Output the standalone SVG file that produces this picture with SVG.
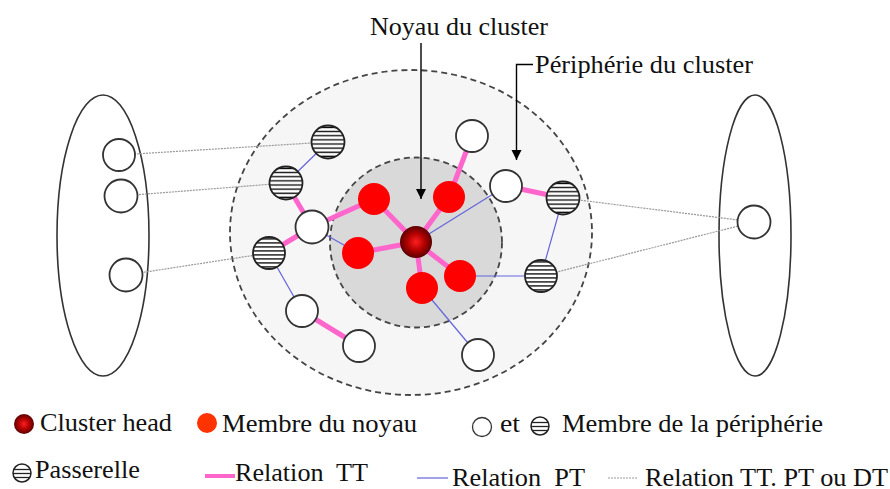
<svg xmlns="http://www.w3.org/2000/svg" width="890" height="489" viewBox="0 0 890 489">
<defs>
<style>
.t{font-family:"Liberation Serif","Times New Roman",serif;font-size:25px;fill:#111;}
.zone{stroke:#444;stroke-width:1.8;stroke-dasharray:6 4;}
.ell{fill:none;stroke:#333;stroke-width:1.6;}
.wn{fill:#fff;stroke:#333;stroke-width:1.8;}
.sn{fill:url(#stripes);stroke:#222;stroke-width:1.8;}
.rn{fill:#ff0000;}
.pk{stroke:#ff66cc;stroke-width:5;stroke-linecap:butt;}
.bl{stroke:#6464dc;stroke-width:1.2;}
.dt{stroke:#999;stroke-width:1.2;stroke-dasharray:2 1;}
.ar{stroke:#000;stroke-width:1.4;fill:none;}
</style>
<pattern id="stripes" patternUnits="objectBoundingBox" width="1" height="0.125" patternContentUnits="objectBoundingBox">
<rect x="0" y="0" width="1" height="0.125" fill="#fff"/>
<rect x="0" y="0.04" width="1" height="0.04" fill="#000"/>
</pattern>
<radialGradient id="head" cx="50%" cy="50%" r="50%">
<stop offset="0" stop-color="#ff2020"/>
<stop offset="0.55" stop-color="#b00000"/>
<stop offset="1" stop-color="#5a0000"/>
</radialGradient>
<marker id="arr" markerUnits="userSpaceOnUse" markerWidth="11" markerHeight="11" refX="10" refY="5" orient="auto">
<path d="M0,0 L10,5 L0,10 z" fill="#000"/>
</marker>
</defs>

<g id="zones">
<ellipse id="peripherie" class="zone" cx="411" cy="232.5" rx="181" ry="162.5" fill="#f6f6f6"/>
<ellipse id="noyau" class="zone" cx="416" cy="242.5" rx="86" ry="85" fill="#d9d9d9"/>
<ellipse id="cluster-gauche" class="ell" cx="103" cy="235.5" rx="46" ry="140.5"/>
<ellipse id="cluster-droit" class="ell" cx="755" cy="235.5" rx="36" ry="140.5"/>
</g>

<g id="connectors">
<line class="dt" x1="119" y1="155" x2="328" y2="142"/>
<line class="dt" x1="121" y1="196" x2="286" y2="183"/>
<line class="dt" x1="126" y1="275" x2="269" y2="253"/>
<line class="dt" x1="563" y1="198" x2="754" y2="222"/>
<line class="dt" x1="541" y1="276" x2="754" y2="222"/>
<line class="pk" x1="416" y1="242" x2="374" y2="199"/>
<line class="pk" x1="416" y1="242" x2="449" y2="197"/>
<line class="pk" x1="416" y1="242" x2="358" y2="253"/>
<line class="pk" x1="416" y1="242" x2="460" y2="276"/>
<line class="pk" x1="416" y1="242" x2="422" y2="288"/>
<line class="pk" x1="374" y1="199" x2="312" y2="227"/>
<line class="pk" x1="449" y1="197" x2="472" y2="136"/>
<line class="pk" x1="286" y1="183" x2="312" y2="227"/>
<line class="pk" x1="312" y1="227" x2="269" y2="253"/>
<line class="pk" x1="302" y1="311" x2="359" y2="346"/>
<line class="pk" x1="506" y1="186" x2="563" y2="198"/>
<line class="bl" x1="328" y1="142" x2="286" y2="183"/>
<line class="bl" x1="312" y1="227" x2="358" y2="253"/>
<line class="bl" x1="269" y1="253" x2="302" y2="311"/>
<line class="bl" x1="422" y1="288" x2="478" y2="355"/>
<line class="bl" x1="460" y1="276" x2="541" y2="276"/>
<line class="bl" x1="541" y1="276" x2="563" y2="198"/>
<line class="bl" x1="506" y1="186" x2="416" y2="242"/>
</g>

<g id="nodes">
<g id="ch"><circle cx="416" cy="242" r="16" fill="url(#head)"/></g>
<g id="m1"><circle class="rn" cx="374" cy="199" r="16"/></g>
<g id="m2"><circle class="rn" cx="449" cy="197" r="16"/></g>
<g id="m3"><circle class="rn" cx="358" cy="253" r="16"/></g>
<g id="m4"><circle class="rn" cx="460" cy="276" r="16"/></g>
<g id="m5"><circle class="rn" cx="422" cy="288" r="16"/></g>
<g id="p1"><circle class="wn" cx="312" cy="227" r="16.5"/></g>
<g id="p2"><circle class="wn" cx="472" cy="136" r="16"/></g>
<g id="p3"><circle class="wn" cx="506" cy="186" r="16"/></g>
<g id="p4"><circle class="wn" cx="302" cy="311" r="16"/></g>
<g id="p5"><circle class="wn" cx="359" cy="346" r="16"/></g>
<g id="p6"><circle class="wn" cx="478" cy="355" r="16"/></g>
<g id="g1"><circle class="sn" cx="328" cy="142" r="16.5"/></g>
<g id="g2"><circle class="sn" cx="286" cy="183" r="16.5"/></g>
<g id="g3"><circle class="sn" cx="269" cy="253" r="16"/></g>
<g id="g4"><circle class="sn" cx="563" cy="198" r="16.5"/></g>
<g id="g5"><circle class="sn" cx="541" cy="276" r="16"/></g>
<g id="l1"><circle class="wn" cx="119" cy="155" r="16"/></g>
<g id="l2"><circle class="wn" cx="121" cy="196" r="16.5"/></g>
<g id="l3"><circle class="wn" cx="126" cy="275" r="16.5"/></g>
<g id="r1"><circle class="wn" cx="754" cy="222" r="16.5"/></g>
</g>

<g id="annotations">
<text class="t" x="370" y="35" textLength="178" lengthAdjust="spacingAndGlyphs">Noyau du cluster</text>
<path class="ar" d="M421,43 V199" marker-end="url(#arr)"/>
<text class="t" x="535" y="73" textLength="218" lengthAdjust="spacingAndGlyphs">Périphérie du cluster</text>
<path class="ar" d="M533,64.5 H516.5 V160" marker-end="url(#arr)"/>
</g>

<g id="legend">
<circle cx="24" cy="424" r="10" fill="url(#head)"/>
<text class="t" x="40" y="431" textLength="132" lengthAdjust="spacingAndGlyphs">Cluster head</text>
<circle cx="207" cy="423" r="10" fill="#ff3300"/>
<text class="t" x="222" y="432" textLength="195" lengthAdjust="spacingAndGlyphs">Membre du noyau</text>
<circle cx="482" cy="427" r="9.5" fill="#fff" stroke="#333" stroke-width="1.3"/>
<text class="t" x="500" y="432" textLength="20" lengthAdjust="spacingAndGlyphs">et</text>
<g>
<circle cx="540" cy="426" r="9" fill="#fff" stroke="#222" stroke-width="1.5"/>
<line x1="532" y1="422.5" x2="548" y2="422.5" stroke="#222" stroke-width="1.3"/>
<line x1="531" y1="426.5" x2="549" y2="426.5" stroke="#222" stroke-width="1.3"/>
<line x1="532" y1="430.5" x2="548" y2="430.5" stroke="#222" stroke-width="1.3"/>
</g>
<text class="t" x="562" y="432" textLength="261" lengthAdjust="spacingAndGlyphs">Membre de la périphérie</text>
<g>
<circle cx="22" cy="473" r="9" fill="#fff" stroke="#222" stroke-width="1.5"/>
<line x1="14" y1="469.5" x2="30" y2="469.5" stroke="#222" stroke-width="1.3"/>
<line x1="13" y1="473.5" x2="31" y2="473.5" stroke="#222" stroke-width="1.3"/>
<line x1="14" y1="477.5" x2="30" y2="477.5" stroke="#222" stroke-width="1.3"/>
</g>
<text class="t" x="35" y="478" textLength="105" lengthAdjust="spacingAndGlyphs">Passerelle</text>
<line x1="205" y1="476" x2="235" y2="476" stroke="#ff66cc" stroke-width="4"/>
<text class="t" x="235" y="481" textLength="133" lengthAdjust="spacingAndGlyphs" xml:space="preserve">Relation  TT</text>
<line x1="417" y1="478" x2="448" y2="478" stroke="#6464dc" stroke-width="1.2"/>
<text class="t" x="452" y="485.5" textLength="133" lengthAdjust="spacingAndGlyphs" xml:space="preserve">Relation  PT</text>
<line x1="608" y1="478" x2="637" y2="478" stroke="#999" stroke-width="1.2" stroke-dasharray="2 1"/>
<text class="t" x="645" y="485.5" textLength="243" lengthAdjust="spacingAndGlyphs">Relation TT. PT ou DT</text>
</g>
</svg>
